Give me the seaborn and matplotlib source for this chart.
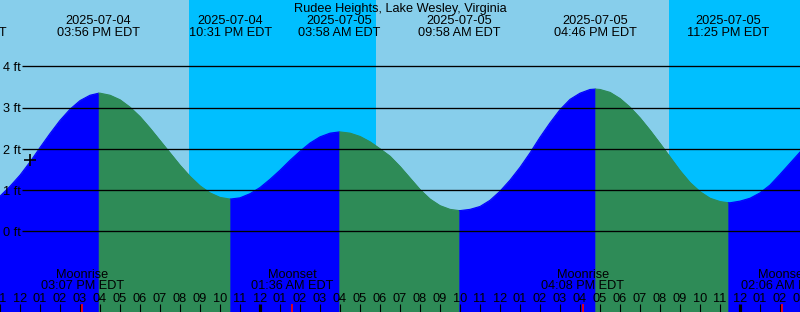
import numpy as np
import pandas as pd
import matplotlib
matplotlib.use("Agg")
import matplotlib.pyplot as plt
import matplotlib.transforms as mtransforms
import seaborn as sns

# ---------------- data ----------------
title = "Rudee Heights, Lake Wesley, Virginia"
start_time = "2025-07-04 11:00"
span_hours = 40

# tide height readings (ft), every 30 minutes from 2025-07-04 11:00 EDT
tide_ft = [
    0.85, 1.09, 1.36, 1.68, 2.03, 2.37, 2.69, 2.96, 3.17, 3.30,
    3.35, 3.30, 3.19, 3.01, 2.78, 2.50, 2.20, 1.90, 1.60, 1.33,
    1.10, 0.93, 0.82, 0.78, 0.81, 0.91, 1.06, 1.26, 1.48, 1.72,
    1.94, 2.14, 2.29, 2.38, 2.41, 2.38, 2.30, 2.17, 2.00, 1.82,
    1.57, 1.29, 1.01, 0.78, 0.62, 0.53, 0.50, 0.53, 0.60, 0.75,
    0.97, 1.24, 1.55, 1.90, 2.28, 2.63, 2.95, 3.20, 3.35, 3.44,
    3.44, 3.37, 3.22, 3.01, 2.75, 2.45, 2.13, 1.80, 1.47, 1.18,
    0.96, 0.80, 0.72, 0.69, 0.73, 0.80, 0.93, 1.12, 1.38, 1.65,
    1.92,
]

# high / low tides
extreme_times = ["2025-07-04 09:15", "2025-07-04 15:56", "2025-07-04 22:31",
                 "2025-07-05 03:58", "2025-07-05 09:58", "2025-07-05 16:46",
                 "2025-07-05 23:25", "2025-07-06 05:04"]
extreme_ft = [0.70, 3.35, 0.78, 2.41, 0.50, 3.45, 0.69, 3.30]

# sun: night intervals (sunset, sunrise)
sunset_times = ["2025-07-04 20:27", "2025-07-05 20:27"]
sunrise_times = ["2025-07-05 05:48", "2025-07-06 05:48"]

# moon events
moon_times = ["2025-07-04 15:07", "2025-07-05 01:36", "2025-07-05 16:08", "2025-07-06 02:06"]
moon_events = ["Moonrise", "Moonset", "Moonrise", "Moonset"]

# "now" marker
now_time = "2025-07-04 12:30"
now_ft = 1.74

gridline_ft = [0, 1, 2, 3, 4]

# ---------------- helpers ----------------
t0 = pd.Timestamp(start_time)


def hrs(s):
    return (pd.to_datetime(s) - t0) / pd.Timedelta(hours=1)


W, H = 800, 312
PX_PER_FT = 41.2
ZERO_PX = 231.2
y_top = ZERO_PX / PX_PER_FT
y_bot = (ZERO_PX - H) / PX_PER_FT


def fy(px):  # pixel-from-top -> axes fraction
    return 1 - px / H


SKY_DAY = "#87CEEB"
SKY_NIGHT = "#00BFFF"
RISE = "#0000FF"
FALL = "#2E8B57"

sns.set_theme(style="white")
plt.rcParams["font.family"] = ["Liberation Sans", "DejaVu Sans"]
FS = 9.2

fig = plt.figure(figsize=(W / 100, H / 100), dpi=100)
ax = fig.add_axes([0, 0, 1, 1])
ax.set_xlim(0, span_hours)
ax.set_ylim(y_bot, y_top)
ax.axis("off")
ax.set_facecolor(SKY_DAY)
fig.patch.set_facecolor(SKY_DAY)

# day / night background
ax.axvspan(0, span_hours, color=SKY_DAY, lw=0, zorder=0)
for ss, sr in zip(sunset_times, sunrise_times):
    ax.axvspan(hrs(ss), min(hrs(sr), span_hours + 5), color=SKY_NIGHT, lw=0, zorder=0.5)

# tide curve
grid_h = np.arange(len(tide_ft)) * 0.5
df = pd.DataFrame({"h": np.concatenate([grid_h, [hrs(t) for t in extreme_times]]),
                   "ft": np.concatenate([tide_ft, extreme_ft])}).sort_values("h")

ext_h = [hrs(t) for t in extreme_times]
for i in range(len(ext_h) - 1):
    a, b = ext_h[i], ext_h[i + 1]
    sub = df[(df.h >= a - 1e-9) & (df.h <= b + 1e-9)]
    col = RISE if extreme_ft[i + 1] > extreme_ft[i] else FALL
    ax.fill_between(sub.h, y_bot - 1, sub.ft, color=col, lw=0.6, edgecolor=col, zorder=1)
    sns.lineplot(data=sub, x="h", y="ft", color=col, lw=0.8, ax=ax, sort=True, zorder=1.1)

# horizontal level lines and labels
x_line0 = 22 / 20
for v in gridline_ft:
    ax.hlines(v, x_line0, span_hours, color="black", lw=0.95, zorder=3)
    ax.text(3 / 20, v - 4.7 / PX_PER_FT, f"{v} ft", fontsize=FS, ha="left", va="baseline",
            color="black", zorder=4)

# now marker
sns.scatterplot(x=[hrs(now_time)], y=[now_ft], marker="+", s=70, color="black",
                linewidth=1.2, ax=ax, zorder=5, legend=False)

trans = mtransforms.blended_transform_factory(ax.transData, ax.transAxes)

# title
ax.text(0.5, fy(11.7), title, transform=ax.transAxes, fontsize=FS, ha="center",
        va="baseline", color="black", zorder=6)

# tide extremes labels
for t in extreme_times:
    ts = pd.Timestamp(t)
    x = hrs(t)
    ax.text(x, fy(24), ts.strftime("%Y-%m-%d"), transform=trans, fontsize=FS,
            ha="center", va="baseline", color="black", zorder=6)
    ax.text(x, fy(36), ts.strftime("%I:%M %p") + " EDT", transform=trans, fontsize=FS,
            ha="center", va="baseline", color="black", zorder=6)

# moon labels
for t, ev in zip(moon_times, moon_events):
    ts = pd.Timestamp(t)
    x = hrs(t)
    ax.text(x, fy(278.3), ev, transform=trans, fontsize=FS, ha="center",
            va="baseline", color="black", zorder=6)
    ax.text(x, fy(289.3), ts.strftime("%I:%M %p") + " EDT", transform=trans,
            fontsize=FS, ha="center", va="baseline", color="black", zorder=6)
    ax.vlines(x, fy(H), fy(304), transform=trans, color="red", lw=1.2, zorder=7)

# hour ticks and labels
for h in range(span_hours + 1):
    ts = t0 + pd.Timedelta(hours=h)
    lw = 2.3 if ts.hour == 0 else 0.8
    ax.vlines(h, fy(H), fy(304), transform=trans, color="black", lw=lw, zorder=6)
    ax.text(h, fy(302), ts.strftime("%I"), transform=trans, fontsize=FS,
            ha="center", va="baseline", color="black", zorder=6)

fig.savefig("out.png", dpi=100, facecolor=SKY_DAY)
